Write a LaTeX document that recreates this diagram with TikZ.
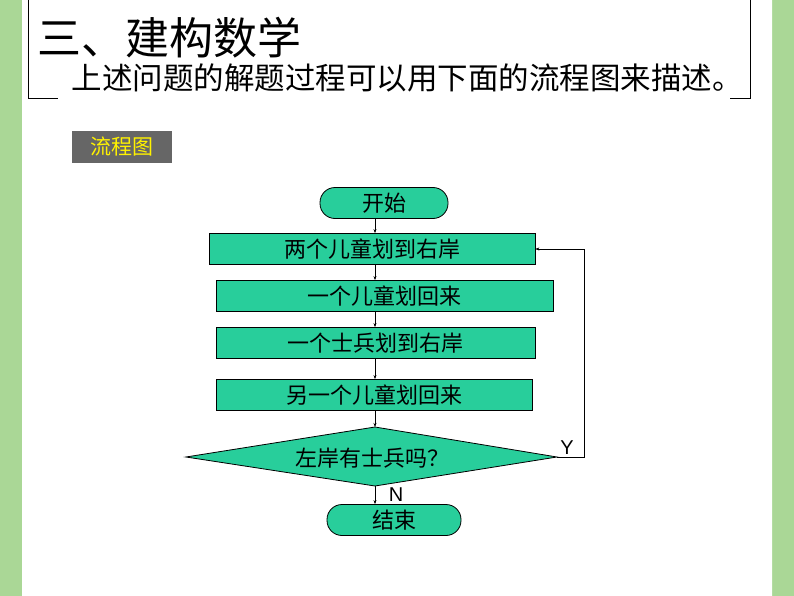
\documentclass[tikz,border=0pt]{standalone}
\usepackage{fontspec}
\newfontfamily\cjk{Noto Sans CJK SC}
\setmainfont{Liberation Sans}
\usetikzlibrary{shapes.geometric,arrows.meta}
\definecolor{fc}{RGB}{40,206,155}
\definecolor{bgg}{RGB}{170,215,150}
\begin{document}
\begin{tikzpicture}[x=1pt,y=-1pt,
  pbox/.style={draw,fill=fc,line width=0.8pt,inner sep=0},
  lbl/.style={font=\cjk\fontsize{22}{22}\selectfont},
  arr/.style={-{Stealth[length=4pt,width=3pt]},line width=0.5pt}]
\useasboundingbox (0,0) rectangle (794,596);
\fill[bgg] (0,0) rectangle (794,596);
\fill[white,rounded corners=20] (22,-30) rectangle (772,620);
% title frame
\draw[line width=0.8pt] (28,0) -- (28,98) -- (58,98);
\draw[line width=0.8pt] (750,0) -- (750,98) -- (730,98);
\node[anchor=west,font=\cjk\fontsize{44}{44}\selectfont] (t) at (34,38) {三、建构数学};
\node[anchor=west,font=\cjk\fontsize{30.5}{31}\selectfont] (s) at (68,78) {上述问题的解题过程可以用下面的流程图来描述。};
\node[fill=gray!80!black,minimum width=100,minimum height=32,inner sep=0,
  font=\cjk\itshape\fontsize{21}{21}\selectfont,text=yellow] (lc) at (122,147) {流程图};
% flowchart
\node[pbox,rounded corners=15,minimum width=128,minimum height=31,lbl] (st) at (384,203) {开始};
\node[pbox,minimum width=326,minimum height=31,lbl] (b1) at (372,249) {两个儿童划到右岸};
\node[pbox,minimum width=337,minimum height=31,lbl] (b2) at (384.5,296) {一个儿童划回来};
\node[pbox,minimum width=319,minimum height=31,lbl] (b3) at (375.5,343) {一个士兵划到右岸};
\node[pbox,minimum width=316,minimum height=31,lbl] (b4) at (374,395) {另一个儿童划回来};
\draw[pbox] (186,457) -- (375,427) -- (557,457) -- (375,486) -- cycle;
\node[lbl] (d) at (372,458) {左岸有士兵吗？};
\coordinate (dt) at (375,427);
\coordinate (db) at (375,486);
\coordinate (dr) at (557,457);
\node[pbox,rounded corners=15,minimum width=134,minimum height=31,lbl] (en) at (394,520) {结束};
\draw[arr] (st.south -| 375,0) -- (b1.north -| 375,0);
\draw[arr] (b1.south -| 375,0) -- (b2.north -| 375,0);
\draw[arr] (b2.south -| 375,0) -- (b3.north -| 375,0);
\draw[arr] (b3.south -| 375,0) -- (b4.north -| 375,0);
\draw[arr] (b4.south -| 375,0) -- (dt);
\draw[arr] (db) -- (en.north -| 375,0);
\draw[arr] (dr) -- (584,457) -- (584,249) -- (b1.east);
\node[font=\fontsize{20}{20}\selectfont] (y) at (567,448) {Y};
\node[font=\fontsize{20}{20}\selectfont] (n) at (396,495) {N};
\end{tikzpicture}
\end{document}
